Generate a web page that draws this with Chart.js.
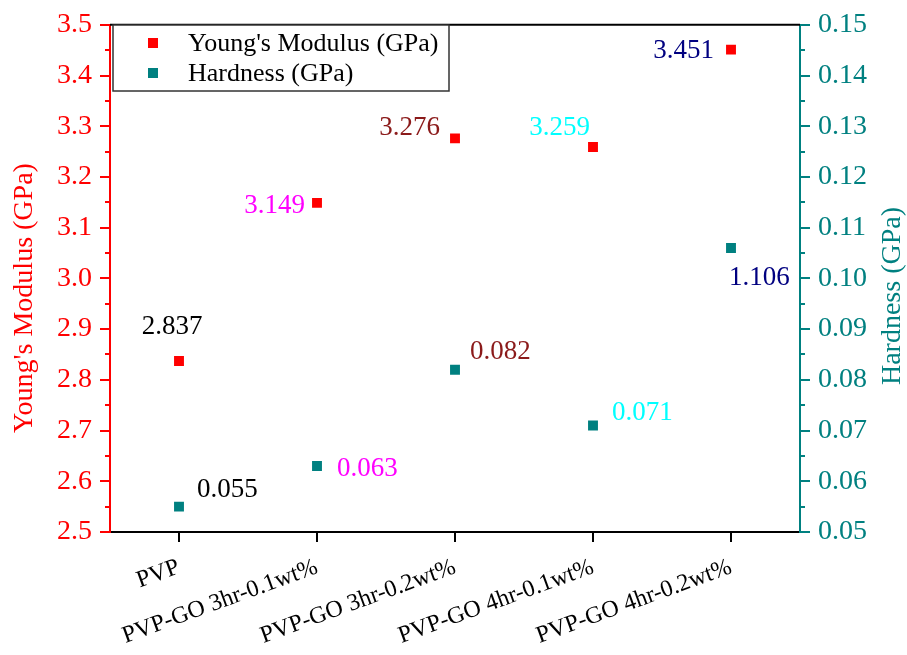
<!DOCTYPE html>
<html>
<head>
<meta charset="utf-8">
<script src="https://cdn.jsdelivr.net/npm/chart.js@4.4.1/dist/chart.umd.min.js"></script>
<style>
  html, body { margin: 0; padding: 0; background: #fff; }
  #wrap { width: 907px; height: 655px; }
</style>
</head>
<body>
<div id="wrap"><canvas id="c" width="907" height="655"></canvas></div>
<script>
// ---- data ----
const categories = ['PVP', 'PVP-GO 3hr-0.1wt%', 'PVP-GO 3hr-0.2wt%', 'PVP-GO 4hr-0.1wt%', 'PVP-GO 4hr-0.2wt%'];
const youngModulus = [2.837, 3.149, 3.276, 3.259, 3.451];
const hardness = [0.055, 0.063, 0.082, 0.071, 0.106];
const youngLabels = ['2.837', '3.149', '3.276', '3.259', '3.451'];
const hardnessLabels = ['0.055', '0.063', '0.082', '0.071', '1.106'];
const leftTicks = [2.5, 2.6, 2.7, 2.8, 2.9, 3.0, 3.1, 3.2, 3.3, 3.4, 3.5];
const rightTicks = [0.05, 0.06, 0.07, 0.08, 0.09, 0.10, 0.11, 0.12, 0.13, 0.14, 0.15];
const seriesNames = ["Young's Modulus (GPa)", 'Hardness (GPa)'];
const axisTitles = ["Young's Modulus (GPa)", 'Hardness (GPa)'];

// ---- style ----
const RED = '#ff0000';
const TEAL = '#008080';
const FONT = '"Liberation Serif", "Times New Roman", serif';
const labelColors = ['#000000', '#ff00ff', '#8b1a1a', '#00ffff', '#000080'];
// offsets: [dx, dy, align]
const youngOffsets = [[-7, -27, 'center'], [-12, 10, 'right'], [-15, -3, 'right'], [-3, -12, 'right'], [-17, 8, 'right']];
const hardOffsets = [[18, -10, 'left'], [20, 10, 'left'], [15, -11, 'left'], [19, -5, 'left'], [-2, 37, 'left']];

const decor = {
  id: 'decor',
  afterDraw(chart) {
    const ctx = chart.ctx;
    const ca = chart.chartArea;
    const ys = chart.scales.y, y1 = chart.scales.y1;
    ctx.save();
    // top border
    ctx.strokeStyle = '#000';
    ctx.lineWidth = 2;
    ctx.beginPath();
    ctx.moveTo(ca.left, ca.top);
    ctx.lineTo(ca.right, ca.top);
    ctx.stroke();
    // minor ticks
    ctx.lineWidth = 2;
    ctx.strokeStyle = RED;
    for (let i = 0; i < leftTicks.length - 1; i++) {
      const v = (leftTicks[i] + leftTicks[i + 1]) / 2;
      const py = Math.round(ys.getPixelForValue(v));
      ctx.beginPath(); ctx.moveTo(ca.left - 5, py); ctx.lineTo(ca.left, py); ctx.stroke();
    }
    ctx.strokeStyle = TEAL;
    for (let i = 0; i < rightTicks.length - 1; i++) {
      const v = (rightTicks[i] + rightTicks[i + 1]) / 2;
      const py = Math.round(y1.getPixelForValue(v));
      ctx.beginPath(); ctx.moveTo(ca.right, py); ctx.lineTo(ca.right + 5, py); ctx.stroke();
    }
    // axis titles
    ctx.font = '28px ' + FONT;
    ctx.textAlign = 'center';
    ctx.textBaseline = 'middle';
    ctx.fillStyle = RED;
    ctx.translate(25, 298);
    ctx.rotate(-Math.PI / 2);
    ctx.fillText(axisTitles[0], 0, 0);
    ctx.setTransform(1, 0, 0, 1, 0, 0);
    ctx.fillStyle = TEAL;
    ctx.translate(893, 296);
    ctx.rotate(-Math.PI / 2);
    ctx.fillText(axisTitles[1], 0, 0);
    ctx.setTransform(1, 0, 0, 1, 0, 0);
    // data labels
    ctx.font = '27px ' + FONT;
    ctx.textBaseline = 'alphabetic';
    const m0 = chart.getDatasetMeta(0).data;
    const m1 = chart.getDatasetMeta(1).data;
    m0.forEach((p, i) => {
      const o = youngOffsets[i];
      ctx.fillStyle = labelColors[i];
      ctx.textAlign = o[2];
      ctx.fillText(youngLabels[i], p.x + o[0], p.y + o[1]);
    });
    m1.forEach((p, i) => {
      const o = hardOffsets[i];
      ctx.fillStyle = labelColors[i];
      ctx.textAlign = o[2];
      ctx.fillText(hardnessLabels[i], p.x + o[0], p.y + o[1]);
    });
    // legend
    const lx = 113, ly = 25, lw = 336, lh = 66;
    ctx.fillStyle = '#fff';
    ctx.fillRect(lx, ly, lw, lh);
    ctx.strokeStyle = '#333';
    ctx.lineWidth = 1.5;
    ctx.strokeRect(lx, ly, lw, lh);
    const cols = [RED, TEAL];
    ctx.font = '26px ' + FONT;
    ctx.textAlign = 'left';
    ctx.textBaseline = 'middle';
    [43, 73].forEach((yy, i) => {
      ctx.fillStyle = cols[i];
      ctx.fillRect(148, yy - 5, 10, 10);
      ctx.fillStyle = '#000';
      ctx.fillText(seriesNames[i], 188, yy + 1);
    });
    ctx.restore();
  }
};

new Chart(document.getElementById('c'), {
  type: 'scatter',
  data: {
    labels: categories,
    datasets: [
      { label: seriesNames[0], data: youngModulus, yAxisID: 'y', showLine: false,
        pointStyle: 'rect', pointRadius: 7, pointHoverRadius: 7, backgroundColor: RED, borderColor: RED, borderWidth: 0 },
      { label: seriesNames[1], data: hardness, yAxisID: 'y1', showLine: false,
        pointStyle: 'rect', pointRadius: 7, pointHoverRadius: 7, backgroundColor: TEAL, borderColor: TEAL, borderWidth: 0 }
    ]
  },
  options: {
    responsive: false,
    animation: false,
    events: [],
    layout: { padding: { top: 22, left: 0, right: 0, bottom: 0 } },
    plugins: { legend: { display: false }, tooltip: { enabled: false } },
    scales: {
      x: {
        type: 'category',
        offset: true,
        grid: { display: true, drawOnChartArea: false, tickLength: 10, color: '#000', lineWidth: 2, offset: false },
        border: { display: true, color: '#000', width: 2 },
        ticks: { color: '#000', font: { family: FONT, size: 24 }, minRotation: 20, maxRotation: 20, padding: 11, autoSkip: false },
        afterFit(s) { s.height = 123; }
      },
      y: {
        type: 'linear', position: 'left', min: 2.5, max: 3.5,
        afterBuildTicks(s) { s.ticks = leftTicks.map(v => ({ value: v })); },
        ticks: { color: RED, font: { family: FONT, size: 28 }, padding: 8, callback: v => v.toFixed(1) },
        grid: { display: true, drawOnChartArea: false, tickLength: 10, color: RED, lineWidth: 2 },
        border: { display: true, color: RED, width: 2 },
        afterFit(s) { s.width = 110; }
      },
      y1: {
        type: 'linear', position: 'right', min: 0.05, max: 0.15,
        afterBuildTicks(s) { s.ticks = rightTicks.map(v => ({ value: v })); },
        ticks: { color: TEAL, font: { family: FONT, size: 28 }, padding: 8, callback: v => v.toFixed(2) },
        grid: { display: true, drawOnChartArea: false, tickLength: 10, color: TEAL, lineWidth: 2 },
        border: { display: true, color: TEAL, width: 2 },
        afterFit(s) { s.width = 107; }
      }
    }
  },
  plugins: [decor]
});
</script>
</body>
</html>
